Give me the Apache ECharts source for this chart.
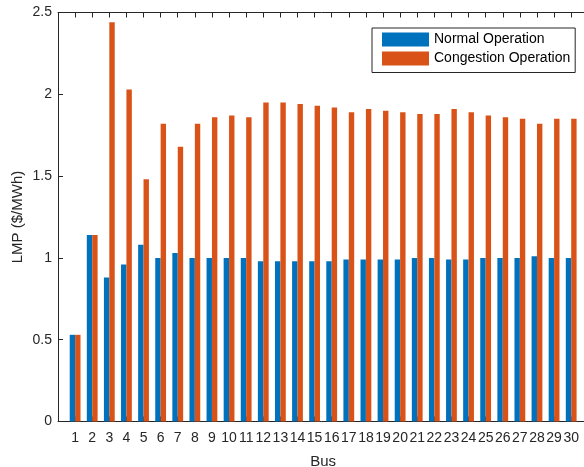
<!DOCTYPE html>
<html>
<head>
<meta charset="utf-8">
<script src="https://cdn.jsdelivr.net/npm/echarts@6/dist/echarts.min.js"></script>
<style>html,body{margin:0;padding:0;background:#fff;}#c{width:584px;height:467px;}</style>
</head>
<body>
<div id="c"></div>
<script>
var busLabels = ['1','2','3','4','5','6','7','8','9','10','11','12','13','14','15','16','17','18','19','20','21','22','23','24','25','26','27','28','29','30'];
var normalOperation = [0.53,1.14,0.88,0.96,1.08,1.00,1.03,1.00,1.00,1.00,1.00,0.98,0.98,0.98,0.98,0.98,0.99,0.99,0.99,0.99,1.00,1.00,0.99,0.99,1.00,1.00,1.00,1.01,1.00,1.00];
var congestionOperation = [0.53,1.14,2.44,2.03,1.48,1.82,1.68,1.82,1.86,1.87,1.86,1.95,1.95,1.94,1.93,1.92,1.89,1.91,1.90,1.89,1.88,1.88,1.91,1.89,1.87,1.86,1.85,1.82,1.85,1.85];
var yTicks = [0, 0.5, 1, 1.5, 2, 2.5];
var seriesNames = ['Normal Operation', 'Congestion Operation'];

var FONT = 'Liberation Sans, Arial, sans-serif';
var AX = '#262626';

function pairs(vals){ return vals.map(function(v,i){ return [i+1, v]; }); }

var chart = echarts.init(document.getElementById('c'), null, {renderer:'canvas'});
var xCommon = {
  type: 'value', min: 0, max: busLabels.length + 1, interval: 1,
  axisLine: {show: true, onZero: false, lineStyle: {color: AX, width: 1}},
  axisTick: {show: true, inside: true, length: 5, lineStyle: {color: AX}},
  splitLine: {show: false}
};
chart.setOption({
  animation: false,
  backgroundColor: '#fff',
  textStyle: {fontFamily: FONT},
  grid: {left: 58, top: 12.5, width: 530.3, height: 409, containLabel: false, outerBoundsMode: 'none'},
  legend: {
    orient: 'vertical', left: 372, top: 28,
    itemWidth: 47, itemHeight: 14, itemGap: 5,
    borderColor: AX, borderWidth: 1, backgroundColor: '#fff',
    padding: [4.5, 5, 7, 10],
    icon: 'rect',
    textStyle: {fontSize: 14, color: '#000', fontFamily: FONT},
    data: seriesNames
  },
  xAxis: [
    Object.assign({}, xCommon, {
      position: 'bottom',
      name: 'Bus', nameLocation: 'middle', nameGap: 33, nameMoveOverlap: false,
      nameTextStyle: {fontSize: 15, color: AX, fontFamily: FONT},
      axisLabel: {
        show: true, margin: 10, fontSize: 14, color: AX, fontFamily: FONT,
        hideOverlap: false,
        formatter: function(v){ var i = Math.round(v) - 1; return (i >= 0 && i < busLabels.length) ? busLabels[i] : ''; }
      }
    }),
    Object.assign({}, xCommon, {
      position: 'top',
      axisLabel: {show: false}
    })
  ],
  yAxis: {
    type: 'value', min: yTicks[0], max: yTicks[yTicks.length-1], interval: 0.5,
    name: 'LMP ($/MWh)', nameLocation: 'middle', nameGap: 33, nameMoveOverlap: false,
    nameTextStyle: {fontSize: 15, color: AX, fontFamily: FONT},
    axisLine: {show: true, lineStyle: {color: AX, width: 1}},
    axisTick: {show: true, inside: true, length: 5, lineStyle: {color: AX}},
    splitLine: {show: false},
    axisLabel: {margin: 6, fontSize: 14, color: AX, fontFamily: FONT,
      formatter: function(v){ return String(v); }}
  },
  series: [
    {name: seriesNames[0], type: 'bar', xAxisIndex: 0, data: pairs(normalOperation),
     barWidth: 5.4, barGap: '0%', itemStyle: {color: '#0072BD'}},
    {name: seriesNames[1], type: 'bar', xAxisIndex: 0, data: pairs(congestionOperation),
     barWidth: 5.4, barGap: '0%', itemStyle: {color: '#D95319'}}
  ]
});
</script>
</body>
</html>
